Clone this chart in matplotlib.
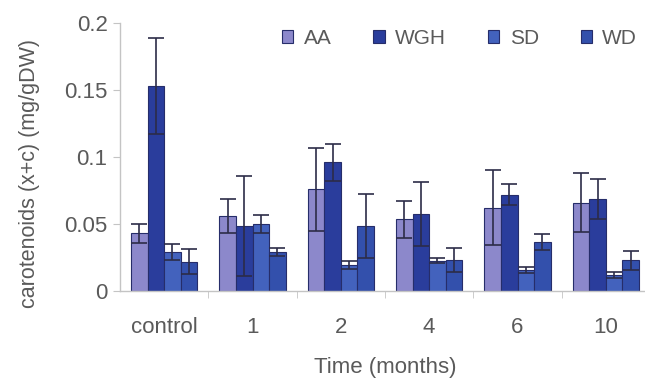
import numpy as np
import matplotlib
matplotlib.use('Agg')
import matplotlib.pyplot as plt

plt.rcParams['font.family'] = ['Liberation Sans', 'DejaVu Sans']

# data
categories = ['control', '1', '2', '4', '6', '10']
series = ['AA', 'WGH', 'SD', 'WD']
aa = [0.043, 0.056, 0.076, 0.0535, 0.062, 0.066]
wgh = [0.153, 0.0485, 0.096, 0.0575, 0.072, 0.0687]
sd = [0.029, 0.050, 0.0194, 0.0226, 0.0157, 0.012]
wd = [0.022, 0.029, 0.0485, 0.023, 0.0363, 0.023]
aa_err = [0.007, 0.013, 0.031, 0.014, 0.028, 0.022]
wgh_err = [0.036, 0.037, 0.014, 0.024, 0.008, 0.015]
sd_err = [0.006, 0.007, 0.003, 0.002, 0.002, 0.002]
wd_err = [0.009, 0.003, 0.024, 0.009, 0.006, 0.007]
yticks = [0, 0.05, 0.1, 0.15, 0.2]
ytick_labels = ['0', '0.05', '0.1', '0.15', '0.2']

values = [aa, wgh, sd, wd]
errors = [aa_err, wgh_err, sd_err, wd_err]
colors = ['#8c88cb', '#2a3d9c', '#4362bd', '#3350ac']
text_color = '#5a5a5a'

fig = plt.figure(figsize=(6.45, 3.82), dpi=100)
ax = fig.add_axes([120 / 645, 91 / 382, 530 / 645, 268 / 382])

x = np.arange(len(categories))
w = 0.1875
for i, (name, vals, errs, col) in enumerate(zip(series, values, errors, colors)):
    pos = x + (i - 1.5) * w
    ax.bar(pos, vals, width=w, color=col, edgecolor='#262d6a', linewidth=0.8,
           label=name, zorder=2)
    ax.errorbar(pos, vals, yerr=errs, fmt='none', ecolor='#2c2c48',
                elinewidth=1.2, capsize=5.5, capthick=1.2, zorder=3)

ax.set_xlim(-0.5, len(categories) - 0.5)
ax.set_ylim(0, 0.2)
ax.set_yticks(yticks)
ax.set_yticklabels(ytick_labels)
ax.set_xticks(x)
ax.set_xticklabels(categories)
ax.set_xticks(x[:-1] + 0.5, minor=True)

for s in ['top', 'right']:
    ax.spines[s].set_visible(False)
for s in ['left', 'bottom']:
    ax.spines[s].set_color('#c4c4c4')
    ax.spines[s].set_linewidth(1.0)

ax.tick_params(axis='x', which='major', length=0, pad=19, labelsize=16,
               labelcolor=text_color)
ax.tick_params(axis='x', which='minor', length=5, color='#c4c4c4', direction='out')
ax.tick_params(axis='y', length=5, color='#c4c4c4', pad=4, labelsize=16,
               labelcolor=text_color)

ax.set_xlabel('Time (months)', fontsize=16, color=text_color)
ax.xaxis.set_label_coords(0.5, -0.245)
ax.set_ylabel('carotenoids (x+c) (mg/gDW)', fontsize=15.5, color=text_color)
ax.yaxis.set_label_coords(-0.15, 0.44)

leg = ax.legend(loc='center left', bbox_to_anchor=(282 / 645, 1 - 38 / 382),
                bbox_transform=fig.transFigure, ncol=4, frameon=False,
                fontsize=15, handlelength=0.55, handleheight=0.6,
                handletextpad=0.5, columnspacing=2.0, borderpad=0,
                borderaxespad=0)
for t in leg.get_texts():
    t.set_color(text_color)

fig.savefig('out.png', dpi=100)
